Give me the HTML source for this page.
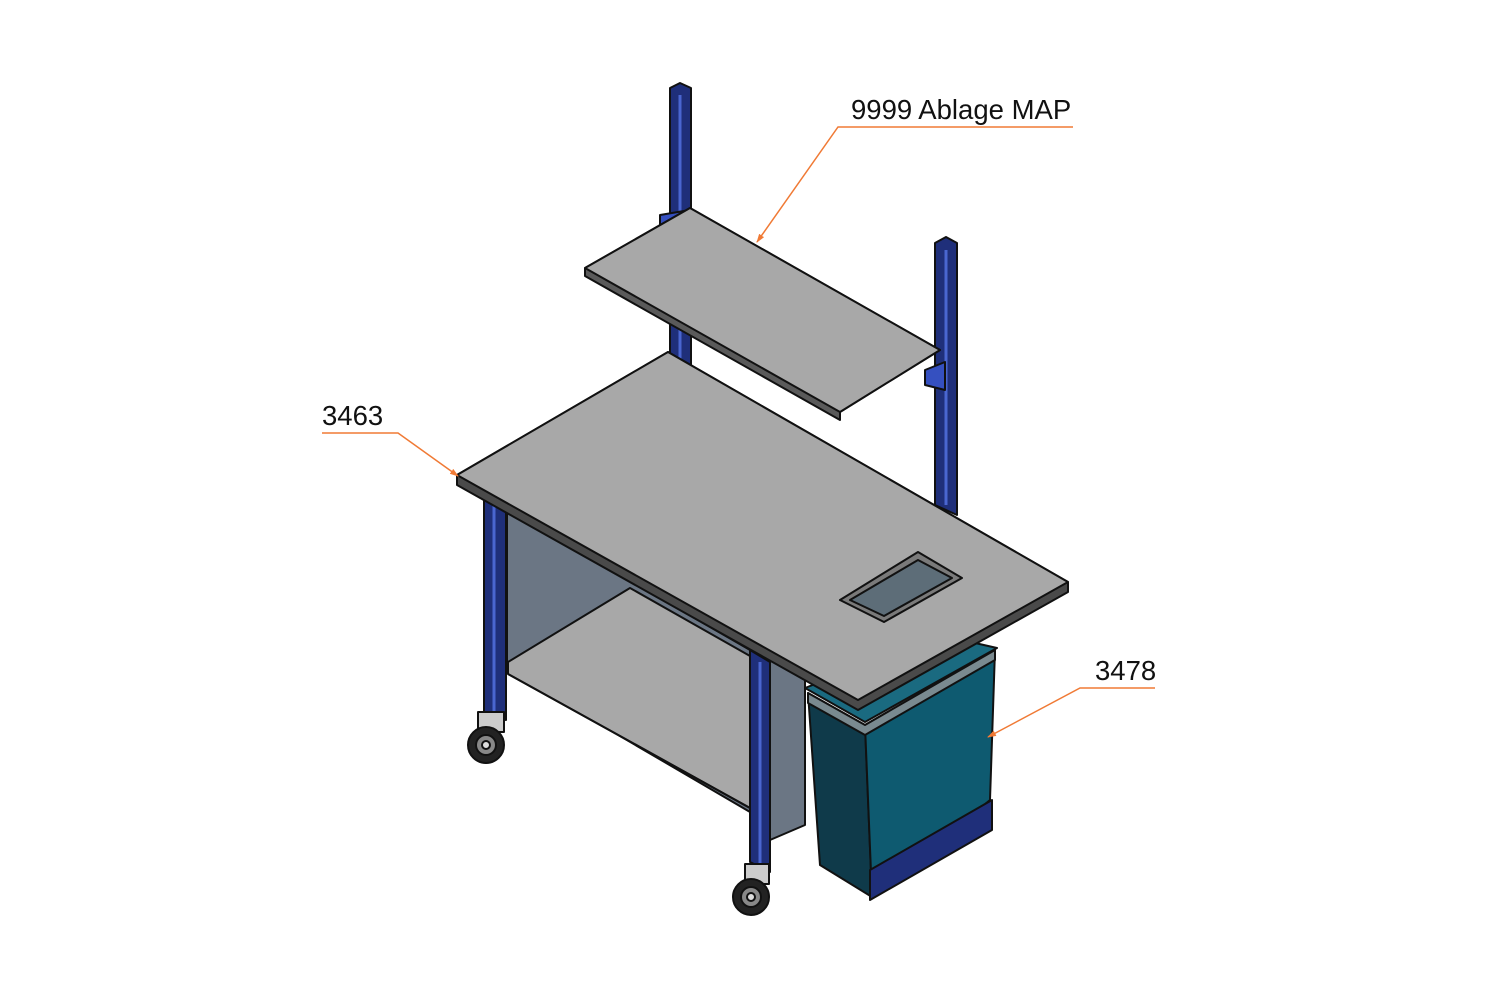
<!DOCTYPE html>
<html><head><meta charset="utf-8"><style>
html,body{margin:0;padding:0;background:#fff;width:1500px;height:1000px;overflow:hidden}
svg{display:block}
text{font-family:"Liberation Sans",sans-serif;font-size:27.5px;fill:#111}
</style></head><body>
<svg width="1500" height="1000" viewBox="0 0 1500 1000" xmlns="http://www.w3.org/2000/svg">
<defs>
<marker id="ar" markerWidth="10" markerHeight="10" refX="8" refY="5" orient="auto" markerUnits="userSpaceOnUse">
<path d="M0,2 L9,5 L0,8 z" fill="#f07a35"/></marker>
</defs>
<g stroke="#111" stroke-width="2" stroke-linejoin="round">
<!-- back left post -->
<polygon points="670,88 680,83 691,88 691,365 670,365" fill="#1f2f7a"/>
<line x1="680" y1="95" x2="680" y2="360" stroke="#4a66d0" stroke-width="3"/>
<!-- back right post -->
<polygon points="935,243 946,237 957,243 957,515 935,505" fill="#1f2f7a"/>
<line x1="946" y1="250" x2="946" y2="505" stroke="#4a66d0" stroke-width="3"/>
<polygon points="925,370 945,362 945,390 925,385" fill="#3550c0"/>
<polygon points="660,215 690,210 690,228 660,225" fill="#3550c0"/>
<!-- upper shelf -->
<polygon points="585,268 690,208 940,350 840,412 840,420 585,276" fill="#5a5a5a"/>
<polygon points="585,268 690,208 940,350 840,412" fill="#a8a8a8"/>
<!-- side panel left -->
<polygon points="507,510 750,650 750,812 507,670" fill="#6b7684"/>
<!-- lower shelf -->
<polygon points="508,662 630,588 750,656 750,808 508,674" fill="#a8a8a8"/>
<polyline points="508,674 750,808" fill="none"/>
<!-- right side panel -->
<polygon points="770,660 805,680 805,825 770,840" fill="#6b7684"/>
<!-- front left leg -->
<polygon points="484,488 506,500 506,720 484,712" fill="#1f2f7a"/>
<line x1="494" y1="500" x2="494" y2="712" stroke="#4a66d0" stroke-width="3"/>
<!-- front right leg -->
<polygon points="750,650 770,662 770,872 750,862" fill="#1f2f7a"/>
<line x1="760" y1="662" x2="760" y2="865" stroke="#4a66d0" stroke-width="3"/>
<!-- casters -->
<rect x="478" y="712" width="26" height="20" fill="#ccc"/>
<circle cx="486" cy="745" r="18" fill="#222"/><circle cx="486" cy="745" r="10" fill="#888"/><circle cx="486" cy="745" r="4" fill="#ddd"/>
<rect x="745" y="864" width="24" height="20" fill="#ccc"/>
<circle cx="751" cy="897" r="18" fill="#222"/><circle cx="751" cy="897" r="10" fill="#888"/><circle cx="751" cy="897" r="4" fill="#ddd"/>
<!-- bin -->
<polygon points="808,693 865,725 872,897 820,865" fill="#0f3a4a"/>
<polygon points="865,725 995,650 990,800 872,897" fill="#0e5a70"/>
<polygon points="805,688 940,635 997,648 865,722" fill="#1a6a80"/>
<polygon points="808,693 865,725 995,650 995,660 865,735 808,703" fill="#7a8a90"/>
<polygon points="870,870 992,800 992,830 870,900" fill="#1f2f7a"/>
<!-- table top -->
<polygon points="457,475 668,352 1068,582 1068,592 858,710 457,485" fill="#4a4a4a"/>
<polygon points="457,475 668,352 1068,582 858,700" fill="#a8a8a8"/>
<polygon points="840,600 918,552 962,578 884,622" fill="#7a7a7a"/>
<polygon points="850,600 918,560 952,578 884,616" fill="#5d6d78"/>
</g>
<!-- labels -->
<g stroke="#f07a35" stroke-width="1.5" fill="none">
<polyline points="1073,127 838,127 757,242" marker-end="url(#ar)"/>
<polyline points="322,433 398,433 458,476" marker-end="url(#ar)"/>
<polyline points="1155,688 1080,688 988,737" marker-end="url(#ar)"/>
</g>
<text x="851" y="119">9999 Ablage MAP</text>
<text x="322" y="425">3463</text>
<text x="1095" y="680">3478</text>
</svg>
</body></html>
